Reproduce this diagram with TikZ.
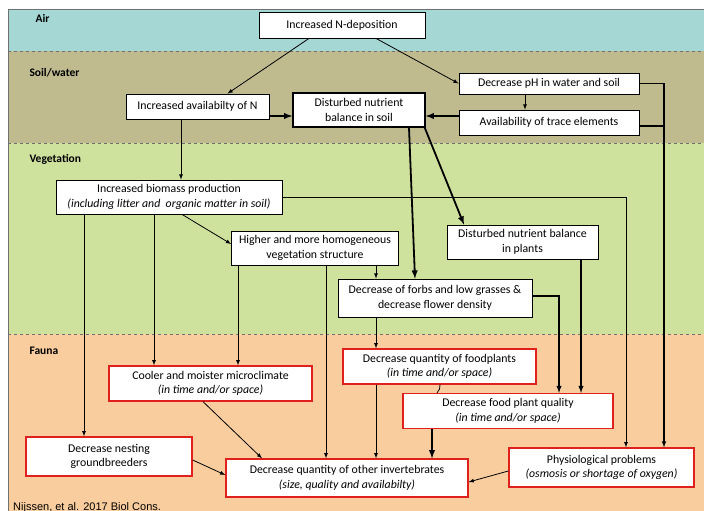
\documentclass[tikz,border=0pt]{standalone}
\usepackage{fontspec}
\setmainfont{Carlito}
\newfontfamily\citefont{Liberation Sans}
\usepackage{tikz}
\usetikzlibrary{shapes,arrows,positioning,calc}

\definecolor{airbg}{HTML}{A5D8D5}
\definecolor{soilbg}{HTML}{BFBB8F}
\definecolor{vegbg}{HTML}{CFE29D}
\definecolor{faunabg}{HTML}{F9CD9E}
\definecolor{boxred}{HTML}{E0201C}
\definecolor{edgegray}{HTML}{707070}

\begin{document}
\begin{tikzpicture}[x=1pt,y=-1pt,
    box/.style={draw, fill=white, line width=0.8pt, align=center, inner sep=1pt,
      font=\fontsize{11.8}{14.5}\selectfont},
    redbox/.style={box, draw=boxred, line width=1.3pt},
    arr/.style={->, >=latex, line width=0.8pt},
    thickarr/.style={->, >=latex, line width=1.8pt},
    zone/.style={anchor=west, font=\bfseries\fontsize{11.5}{13}\selectfont},
    sep/.style={edgegray, dashed, line width=0.6pt}]
        \useasboundingbox (0,0) rectangle (704,511);
        % layers
        \fill[airbg] (8,9) rectangle (704,51);
        \fill[soilbg] (8,51) rectangle (704,143);
        \fill[vegbg] (8,143) rectangle (704,334);
        \fill[faunabg] (8,334) rectangle (704,511);
        \draw[sep] (8,51) -- (704,51);
        \draw[sep] (8,143) -- (704,143);
        \draw[sep] (8,334) -- (704,334);
        \draw[edgegray, line width=0.8pt] (8,511) -- (8,9) -- (704,9);

        \node[zone] (air) at (32,18) {Air};
        \node[zone] (soilw) at (26,73) {Soil/water};
        \node[zone] (veg) at (26,159) {Vegetation};
        \node[zone] (fauna) at (26,351) {Fauna};

        % boxes
        \node[box, minimum width=166pt, minimum height=26pt] (ndep) at (342,25) {Increased N-deposition};
        \node[box, minimum width=180pt, minimum height=21pt] (ph) at (549,83.5) {Decrease pH in water and soil};
        \node[box, minimum width=180pt, minimum height=25pt] (trace) at (549,122.5) {Availability of trace elements};
        \node[box, minimum width=143pt, minimum height=25pt] (availN) at (197.5,106.5) {Increased availabilty of N};
        \node[box, line width=1.5pt, minimum width=132pt, minimum height=34pt] (soil) at (359,110) {Disturbed nutrient\\balance in soil};
        \node[box, minimum width=226pt, minimum height=34pt] (biomass) at (169,197) {Increased biomass production\\\textit{(including litter and\ \ organic matter in soil)}};
        \node[box, minimum width=167pt, minimum height=34pt] (higher) at (315,248) {Higher and more homogeneous\\vegetation structure};
        \node[box, minimum width=151pt, minimum height=34pt] (plants) at (522.5,242) {Disturbed nutrient balance\\in plants};
        \node[box, minimum width=194pt, minimum height=38pt] (forbs) at (435,298) {Decrease of forbs and low grasses \&\\decrease flower density};
        \node[redbox, minimum width=203pt, minimum height=35pt] (cooler) at (210.5,383.5) {Cooler and moister microclimate\\\textit{(in time and/or space)}};
        \node[redbox, minimum width=193pt, minimum height=35pt] (foodq) at (439.5,366.5) {Decrease quantity of foodplants\\\textit{(in time and/or space)}};
        \node[redbox, minimum width=210pt, minimum height=35pt] (qual) at (508,411) {Decrease food plant quality\\\textit{(in time and/or space)}};
        \node[redbox, minimum width=166pt, minimum height=39pt] (nest) at (109,456.5) {Decrease nesting\\groundbreeders};
        \node[redbox, minimum width=242pt, minimum height=38pt] (inverts) at (347,478) {Decrease quantity of other invertebrates\\\textit{(size, quality and availabilty)}};
        \node[redbox, minimum width=185pt, minimum height=39pt] (physio) at (601.5,467.5) {Physiological problems\\\textit{(osmosis or shortage of oxygen)}};

        \node[anchor=base west, font=\citefont\fontsize{11}{13}\selectfont, inner sep=0pt] (cite) at (13,510) {Nijssen, et al. 2017 Biol Cons.};

        % helper points
        \coordinate (phbus) at ([xshift=62.5pt]physio.north);
        \coordinate (biobus) at ([xshift=24.5pt]physio.north);
        \coordinate (qualin) at ([xshift=51pt]qual.north);
        \coordinate (trout) at ([yshift=-3.5pt]trace.east);
        \coordinate (nout) at ([yshift=-9.5pt]availN.east);
        \coordinate (trin) at ([yshift=6.5pt]trace.west);

        % soil/water
        \draw[arr] ([xshift=-33pt]ndep.south) -- ([xshift=30pt]availN.north);
        \draw[arr] ([xshift=34pt]ndep.south) -- (ph.west);
        \draw[arr] ([xshift=-24pt]ph.south) -- ([xshift=-24pt]trace.north);
        \draw[arr, line width=1.1pt] (ph.east) -| (phbus);
        \draw[line width=1.1pt] (trout) -- (trout -| phbus);
        \draw[thickarr] (nout) -- (nout -| soil.west);
        \draw[thickarr] (trin) -- (trin -| soil.east);

        % vegetation
        \draw[arr] ([xshift=-16.5pt]availN.south) -- ([xshift=12pt]biomass.north);
        \draw[thickarr] ([xshift=50pt]soil.south) -- ([xshift=-20pt]forbs.north);
        \draw[thickarr] ([xshift=-1pt]soil.south east) -- ([xshift=-58.5pt]plants.north);
        \draw[arr] (biomass.east) -| (biobus);
        \draw[arr] ([xshift=13pt]biomass.south) -- ([yshift=4pt]higher.west);
        \draw[arr] ([xshift=-85pt]biomass.south) -- ([xshift=-25pt]nest.north);
        \draw[arr] ([xshift=-15pt]biomass.south) -- ([xshift=-56.5pt]cooler.north);
        \draw[arr] ([xshift=-77pt]higher.south) -- ([xshift=27.5pt]cooler.north);
        \draw[arr] ([xshift=11pt]higher.south) -- ([xshift=-21pt]inverts.north);
        \draw[arr] ([xshift=61pt]higher.south) -- ([xshift=-59pt]forbs.north);

        % fauna
        \draw[arr, line width=1.4pt] ([yshift=2pt]forbs.east) -| (qualin);
        \draw[arr, line width=1.4pt] ([xshift=58.5pt]plants.south) -- ([xshift=73pt]qual.north);
        \draw[arr] ([xshift=-59pt]forbs.south) -- ([xshift=-63.5pt]foodq.north);
        \draw[arr] ([xshift=-63.5pt]foodq.south) -- ([xshift=29pt]inverts.north);
        \draw[line width=0.8pt] ([xshift=0.5pt]foodq.south) to[bend left=25] ([xshift=-71pt]qual.north);
        \draw[thickarr] ([xshift=-76pt]qual.south) -- ([xshift=85pt]inverts.north);
        \draw[arr] ([yshift=-3.5pt]physio.west) -- ([yshift=-4pt]inverts.east);
        \draw[arr] ([xshift=-7.5pt]cooler.south) -- ([xshift=-85pt]inverts.north);
        \draw[arr] ([yshift=-3.5pt]nest.east) -- ([yshift=3pt]inverts.west);
\end{tikzpicture}
\end{document}
